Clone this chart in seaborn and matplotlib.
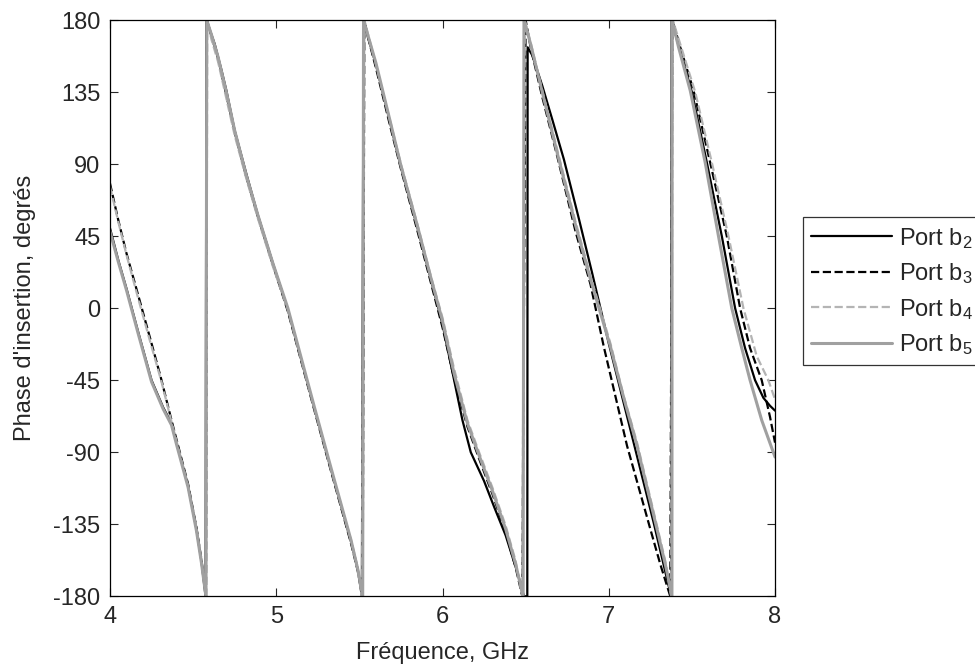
import pandas as pd
import matplotlib
matplotlib.use("Agg")
import matplotlib.pyplot as plt
import seaborn as sns

#### data (frequency GHz, phase in degrees) ####

freq_b2 = [4.00, 4.05, 4.10, 4.17, 4.25, 4.32, 4.37, 4.40, 4.47, 4.52, 4.55, 4.575,
           4.58, 4.60, 4.63, 4.67, 4.70, 4.75, 4.82, 4.89, 4.98, 5.07, 5.15, 5.23, 5.33, 5.45, 5.49, 5.515,
           5.525, 5.55, 5.60, 5.68, 5.75, 5.85, 5.93, 6.00, 6.07, 6.12, 6.17, 6.25, 6.31, 6.38, 6.45, 6.49,
           6.51, 6.512, 6.54, 6.60, 6.66, 6.73, 6.82, 6.90, 7.00, 7.14, 7.27, 7.375,
           7.378, 7.42, 7.50, 7.59, 7.68, 7.76, 7.82, 7.88, 7.93, 7.97, 8.00]
phase_b2 = [50, 30, 12, -15, -45, -62, -72, -84, -111, -138, -158, -180,
            180, 174, 165, 149, 136, 111, 84, 58, 28, -1, -32, -63, -101, -146, -163, -180,
            180, 170, 152, 118, 88, 50, 18, -10, -45, -70, -90, -108, -124, -142, -165, -180,
            -180, 163, 158, 139, 118, 93, 56, 22, -22, -80, -134, -180,
            180, 164, 135, 91, 45, 0, -25, -45, -56, -61, -64]

freq_b3 = [4.00, 4.05, 4.10, 4.17, 4.25, 4.31, 4.37, 4.40, 4.47, 4.52, 4.55, 4.578,
           4.583, 4.61, 4.65, 4.70, 4.75, 4.82, 4.89, 4.98, 5.07, 5.15, 5.23, 5.33, 5.45, 5.49, 5.52,
           5.53, 5.55, 5.60, 5.68, 5.75, 5.85, 5.93, 6.00, 6.07, 6.15, 6.22, 6.30, 6.38, 6.44, 6.48,
           6.50, 6.53, 6.60, 6.69, 6.80, 6.89, 6.97, 7.04, 7.11, 7.18, 7.25, 7.31, 7.37,
           7.383, 7.43, 7.51, 7.61, 7.71, 7.79, 7.85, 7.92, 7.97, 8.00]
phase_b3 = [78, 55, 34, 8, -22, -45, -70, -82, -110, -137, -157, -180,
            180, 170, 156, 133, 110, 82, 57, 27, -2, -33, -64, -102, -147, -164, -180,
            180, 170, 150, 116, 87, 48, 16, -12, -44, -74, -94, -116, -140, -162, -180,
            180, 163, 132, 95, 48, 15, -24, -55, -86, -112, -138, -160, -180,
            180, 163, 136, 91, 45, 0, -25, -45, -68, -84]

freq_b4 = [4.00, 4.05, 4.10, 4.17, 4.25, 4.31, 4.37, 4.40, 4.47, 4.52, 4.55, 4.578,
           4.585, 4.61, 4.65, 4.70, 4.75, 4.82, 4.89, 4.98, 5.07, 5.15, 5.23, 5.33, 5.45, 5.49, 5.515,
           5.53, 5.56, 5.60, 5.68, 5.75, 5.85, 5.93, 6.00, 6.07, 6.15, 6.22, 6.30, 6.38, 6.44, 6.48,
           6.495, 6.53, 6.60, 6.69, 6.80, 6.89, 7.01, 7.09, 7.17, 7.23, 7.29, 7.34, 7.375,
           7.385, 7.43, 7.52, 7.62, 7.72, 7.81, 7.89, 7.96, 8.00]
phase_b4 = [76, 54, 33, 6, -24, -46, -71, -83, -111, -138, -158, -180,
            180, 168, 154, 131, 108, 81, 56, 26, -1, -32, -63, -101, -145, -162, -180,
            180, 168, 152, 119, 90, 52, 20, -6, -38, -70, -90, -112, -136, -158, -180,
            180, 166, 136, 99, 54, 20, -22, -55, -84, -110, -136, -158, -180,
            180, 165, 135, 91, 45, 0, -30, -45, -57]

freq_b5 = [4.00, 4.05, 4.10, 4.17, 4.25, 4.32, 4.37, 4.40, 4.47, 4.52, 4.55, 4.577,
           4.582, 4.61, 4.65, 4.70, 4.75, 4.82, 4.89, 4.98, 5.07, 5.15, 5.23, 5.33, 5.45, 5.49, 5.52,
           5.525, 5.55, 5.60, 5.68, 5.75, 5.85, 5.93, 6.00, 6.07, 6.15, 6.22, 6.30, 6.38, 6.44, 6.485,
           6.49, 6.53, 6.60, 6.69, 6.80, 6.89, 7.01, 7.09, 7.17, 7.23, 7.29, 7.34, 7.38,
           7.381, 7.42, 7.49, 7.58, 7.66, 7.74, 7.80, 7.85, 7.92, 8.00]
phase_b5 = [48, 29, 11, -16, -46, -63, -73, -85, -112, -139, -159, -180,
            180, 171, 157, 135, 111, 83, 58, 28, 0, -31, -62, -100, -145, -163, -180,
            180, 171, 153, 119, 89, 51, 19, -8, -41, -72, -92, -114, -138, -160, -180,
            180, 165, 135, 97, 52, 18, -24, -56, -86, -112, -138, -160, -180,
            180, 163, 136, 91, 45, 0, -25, -45, -70, -93]

ports = ["Port b$_2$", "Port b$_3$", "Port b$_4$", "Port b$_5$"]
x_ticks = [4, 5, 6, 7, 8]
y_ticks = [-180, -135, -90, -45, 0, 45, 90, 135, 180]

#### build long table ####
frames = []
for name, f, p in zip(ports, [freq_b2, freq_b3, freq_b4, freq_b5],
                      [phase_b2, phase_b3, phase_b4, phase_b5]):
    frames.append(pd.DataFrame({"freq": f, "phase": p, "port": name}))
df = pd.concat(frames, ignore_index=True)

#### plot ####
sns.set_style("white")
plt.rcParams["font.family"] = ["Liberation Sans", "DejaVu Sans"]
plt.rcParams["mathtext.default"] = "regular"
plt.rcParams["axes.unicode_minus"] = False

styles = {
    ports[0]: dict(color="black", linestyle="-", lw=1.6),
    ports[1]: dict(color="black", linestyle="--", lw=1.6),
    ports[2]: dict(color="#b4b4b4", linestyle="--", lw=1.6),
    ports[3]: dict(color="#a0a0a0", linestyle="-", lw=2.2),
}

fig = plt.figure(figsize=(9.75, 6.7), dpi=100)
ax = fig.add_axes([0.1128, 0.110, 0.6821, 0.860])

for name in ports:
    sub = df[df.port == name]
    sns.lineplot(data=sub, x="freq", y="phase", ax=ax, sort=False,
                 estimator=None, label=name, **styles[name])

ax.set_xlim(4, 8)
ax.set_ylim(-180, 180)
ax.set_xticks(x_ticks)
ax.set_yticks(y_ticks)
ax.tick_params(direction="in", length=6, width=0.8, labelsize=17,
               top=True, right=True, bottom=True, left=True, pad=7)
for s in ax.spines.values():
    s.set_visible(True)
    s.set_linewidth(0.9)
    s.set_color("black")

ax.set_xlabel("Fréquence, GHz", fontsize=17, labelpad=10)
ax.set_ylabel("Phase d'insertion, degrés", fontsize=17, labelpad=12)

ax.legend(loc="center left", bbox_to_anchor=(0.8236, 0.565),
          bbox_transform=fig.transFigure, fontsize=17, frameon=True,
          fancybox=False, edgecolor="black", handlelength=3.4,
          handletextpad=0.3, labelspacing=0.45, borderpad=0.35,
          borderaxespad=0)
ax.get_legend().get_frame().set_linewidth(0.9)

fig.savefig("out.png", dpi=100)
